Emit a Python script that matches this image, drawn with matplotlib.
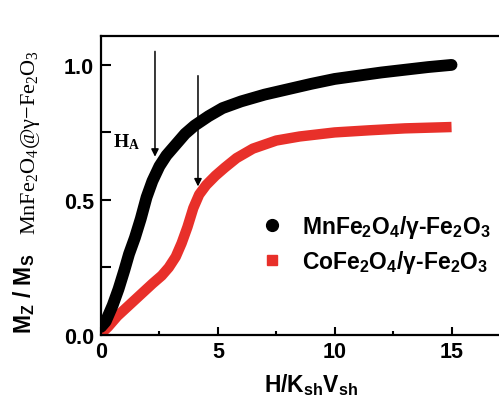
import matplotlib
matplotlib.use("Agg")
import matplotlib.pyplot as plt
from matplotlib.lines import Line2D

plt.rcParams['mathtext.default'] = 'regular'

# MnFe2O4/gamma-Fe2O3 (black)
mn_x = [0.0, 0.2, 0.5, 0.75, 1.0, 1.2, 1.45, 1.7, 1.95, 2.2, 2.5, 2.8, 3.2, 3.6,
        4.0, 4.6, 5.2, 6.0, 7.0, 8.0, 9.0, 10.0, 11.0, 12.0, 13.0, 14.0, 15.0]
mn_y = [0.03, 0.05, 0.11, 0.17, 0.24, 0.30, 0.36, 0.43, 0.51, 0.57, 0.625, 0.665,
        0.705, 0.745, 0.775, 0.81, 0.84, 0.865, 0.89, 0.91, 0.93, 0.948, 0.96,
        0.972, 0.982, 0.992, 1.0]

# CoFe2O4/gamma-Fe2O3 (red)
co_x = [0.0, 0.3, 0.7, 1.2, 1.7, 2.2, 2.6, 2.9, 3.2, 3.45, 3.7, 3.95, 4.2, 4.5,
        4.9, 5.3, 5.8, 6.5, 7.5, 8.5, 10.0, 11.5, 13.0, 15.0]
co_y = [0.005, 0.03, 0.07, 0.11, 0.15, 0.19, 0.22, 0.25, 0.29, 0.34, 0.40, 0.47,
        0.52, 0.555, 0.59, 0.62, 0.655, 0.69, 0.72, 0.735, 0.75, 0.758, 0.765, 0.77]

labels = [r'MnFe$_2$O$_4$/γ-Fe$_2$O$_3$', r'CoFe$_2$O$_4$/γ-Fe$_2$O$_3$']
xticks = [0, 5, 10, 15]
yticks = [0.0, 0.5, 1.0]
arrow_x = [2.31, 4.15]
arrow_top = [1.05, 0.96]
arrow_tip = [0.66, 0.55]

RED = '#e8302a'
W, H = 499, 402
fig = plt.figure(figsize=(W / 100, H / 100), dpi=100)
x0, x1 = 101, 101 + 23.37 * 18
ytop, ybot = 37, 336
ax = fig.add_axes([x0 / W, (H - ybot) / H, (x1 - x0) / W, (ybot - ytop) / H])

ax.plot(mn_x, mn_y, color='black', lw=8.5, solid_capstyle='round', zorder=3)
ax.plot(co_x, co_y, color=RED, lw=7.5, solid_capstyle='butt', zorder=2)

for xa, yt, yb in zip(arrow_x, arrow_top, arrow_tip):
    ax.annotate('', xy=(xa, yb), xytext=(xa, yt),
                arrowprops=dict(arrowstyle='-|>', color='black', lw=1.1,
                                mutation_scale=11, shrinkA=0, shrinkB=0),
                zorder=5)

ax.text(0.5, 0.70, r'H$_A$', family='Liberation Serif', fontweight='bold',
        fontsize=14, ha='left', va='baseline')

ax.set_xlim(0, 18)
ax.set_ylim(0, 1.107)
ax.set_xticks(xticks)
ax.set_xticks([2.5, 7.5, 12.5, 17.5], minor=True)
ax.set_yticks(yticks)
ax.set_yticks([0.25, 0.75], minor=True)
ax.set_xticklabels([str(t) for t in xticks])
ax.set_yticklabels(['%.1f' % t for t in yticks])
for lab in ax.get_xticklabels() + ax.get_yticklabels():
    lab.set_family('Liberation Sans')
    lab.set_fontweight('bold')
    lab.set_fontsize(15.5)
ax.tick_params(axis='x', which='major', direction='in', length=6, width=1.5, pad=4)
ax.tick_params(axis='x', which='minor', direction='in', length=3, width=1.5)
ax.tick_params(axis='y', which='major', direction='in', length=7, width=1.5, pad=5)
ax.tick_params(axis='y', which='minor', direction='in', length=7, width=1.5)
for s in ax.spines.values():
    s.set_linewidth(1.6)

ax.set_xlabel(r'H/K$_{sh}$V$_{sh}$', family='Liberation Sans', fontweight='bold',
              fontsize=16.5, labelpad=7)

fig.text(24 / W, 1 - 294 / H, r'M$_Z$ / M$_S$', rotation=90, family='Liberation Sans',
         fontweight='bold', fontsize=16.5, ha='center', va='center')
fig.text(31 / W, 1 - 142 / H, r'MnFe$_2$O$_4$@γ−Fe$_2$O$_3$', rotation=90,
         family='Liberation Serif', fontsize=16, ha='center', va='center')

handles = [Line2D([], [], ls='none', marker='o', color='black', markersize=8.5),
           Line2D([], [], ls='none', marker='s', color=RED, markersize=7)]
leg = fig.legend(handles, labels, loc='upper left', bbox_to_anchor=(262 / W, 1 - 214 / H),
                 bbox_transform=fig.transFigure,
                 frameon=False, prop={'family': 'Liberation Sans', 'weight': 'bold', 'size': 16.5},
                 handletextpad=0.85, labelspacing=0.35, handlelength=0.9, borderpad=0,
                 borderaxespad=0)

fig.savefig('out.png', dpi=100)
